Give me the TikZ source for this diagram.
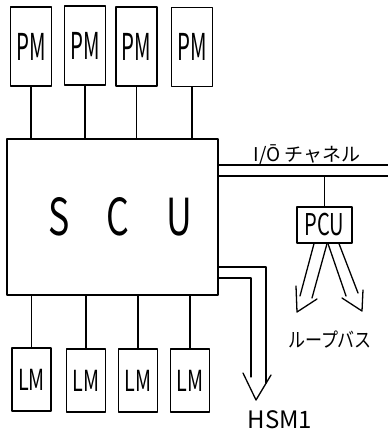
\documentclass[tikz,border=0pt]{standalone}
\usepackage{fontspec}
\setmainfont{Noto Sans CJK JP}
\usetikzlibrary{calc}
\begin{document}
\begin{tikzpicture}[x=1pt,y=-1pt,
  line width=1.3pt, line join=round, line cap=round,
  pmbox/.style={draw, minimum width=41pt, minimum height=79pt, inner sep=0pt,
    font=\fontsize{37}{37}\selectfont},
  lmbox/.style={draw, minimum width=39pt, minimum height=63pt, inner sep=0pt,
    font=\fontsize{29}{29}\selectfont},
  lbl/.style={inner sep=0pt}]
\useasboundingbox (0,0) rectangle (388,434);
% PM boxes
\node[pmbox] (pm1) at (31,46.5) {\scalebox{0.55}[1]{PM}};
\node[pmbox] (pm2) at (85,45.5) {\scalebox{0.55}[1]{PM}};
\node[pmbox] (pm3) at (136.5,46.5) {\scalebox{0.55}[1]{PM}};
\node[pmbox] (pm4) at (192,47) {\scalebox{0.55}[1]{PM}};
% SCU
\node[draw, minimum width=211pt, minimum height=156pt, inner sep=0pt,
  font=\fontsize{51}{51}\selectfont] (scu) at (112.5,217)
  {\hspace*{15pt}\scalebox{0.7}[1]{S}\hspace{37pt}\scalebox{0.7}[1]{C}\hspace{37pt}\scalebox{0.7}[1]{U}};
% LM boxes
\node[lmbox] (lm1) at (31.5,379.5) {\scalebox{0.68}[1]{LM}};
\node[lmbox] (lm2) at (86,380.5) {\scalebox{0.68}[1]{LM}};
\node[lmbox] (lm3) at (138,380.5) {\scalebox{0.68}[1]{LM}};
\node[lmbox] (lm4) at (190,380.5) {\scalebox{0.68}[1]{LM}};
% PM / LM connectors
\foreach \n in {pm1,pm2,pm3,pm4} \draw (\n.south) -- (\n.south |- scu.north);
\foreach \n in {lm1,lm2,lm3,lm4} \draw (\n.north) -- (\n.north |- scu.south);
% I/O channel
\coordinate (io1) at (388,165);
\coordinate (io2) at (388,176);
\draw (scu.east |- io1) -- (io1);
\draw (scu.east |- io2) -- (io2);
\node[lbl, anchor=base, font=\fontsize{19}{19}\selectfont] (iolbl) at (307,161) {I/\={O} チャネル};
% PCU
\node[draw, minimum width=55pt, minimum height=36pt, inner sep=0pt,
  font=\fontsize{30}{30}\selectfont] (pcu) at (324.5,225) {\scalebox{0.67}[1]{PCU}};
\draw (pcu.north) -- (pcu.north |- io2);
% loop bus hollow arrows
\coordinate (ltip) at (297,312);
\coordinate (rtip) at (362,311);
\draw ($(pcu.south)+(-10.5,0)$) -- (300,296);
\draw ($(pcu.south)+(2.5,0)$) -- (312,298);
\draw (296,286) -- (ltip) -- (317,299);
\draw ($(pcu.south)+(3.5,0)$) -- (346,296);
\draw ($(pcu.south)+(14.5,0)$) -- (358,293);
\draw (342,298) -- (rtip) -- (363,290);
\node[lbl, font=\fontsize{20}{20}\selectfont] (loop) at (330,340) {\scalebox{0.85}[1]{ループバス}};
% HSM arrow
\coordinate (hsmtip) at (256,400);
\draw (scu.east |- 0,267) -- (266,267) -- (266,383);
\draw (scu.east |- 0,278) -- (251,278) -- (251,377);
\draw (243,373) -- (hsmtip) -- (271,375);
\node[lbl, font=\fontsize{24}{24}\selectfont] (hsm) at (280,420) {HSM1};
\end{tikzpicture}
\end{document}
